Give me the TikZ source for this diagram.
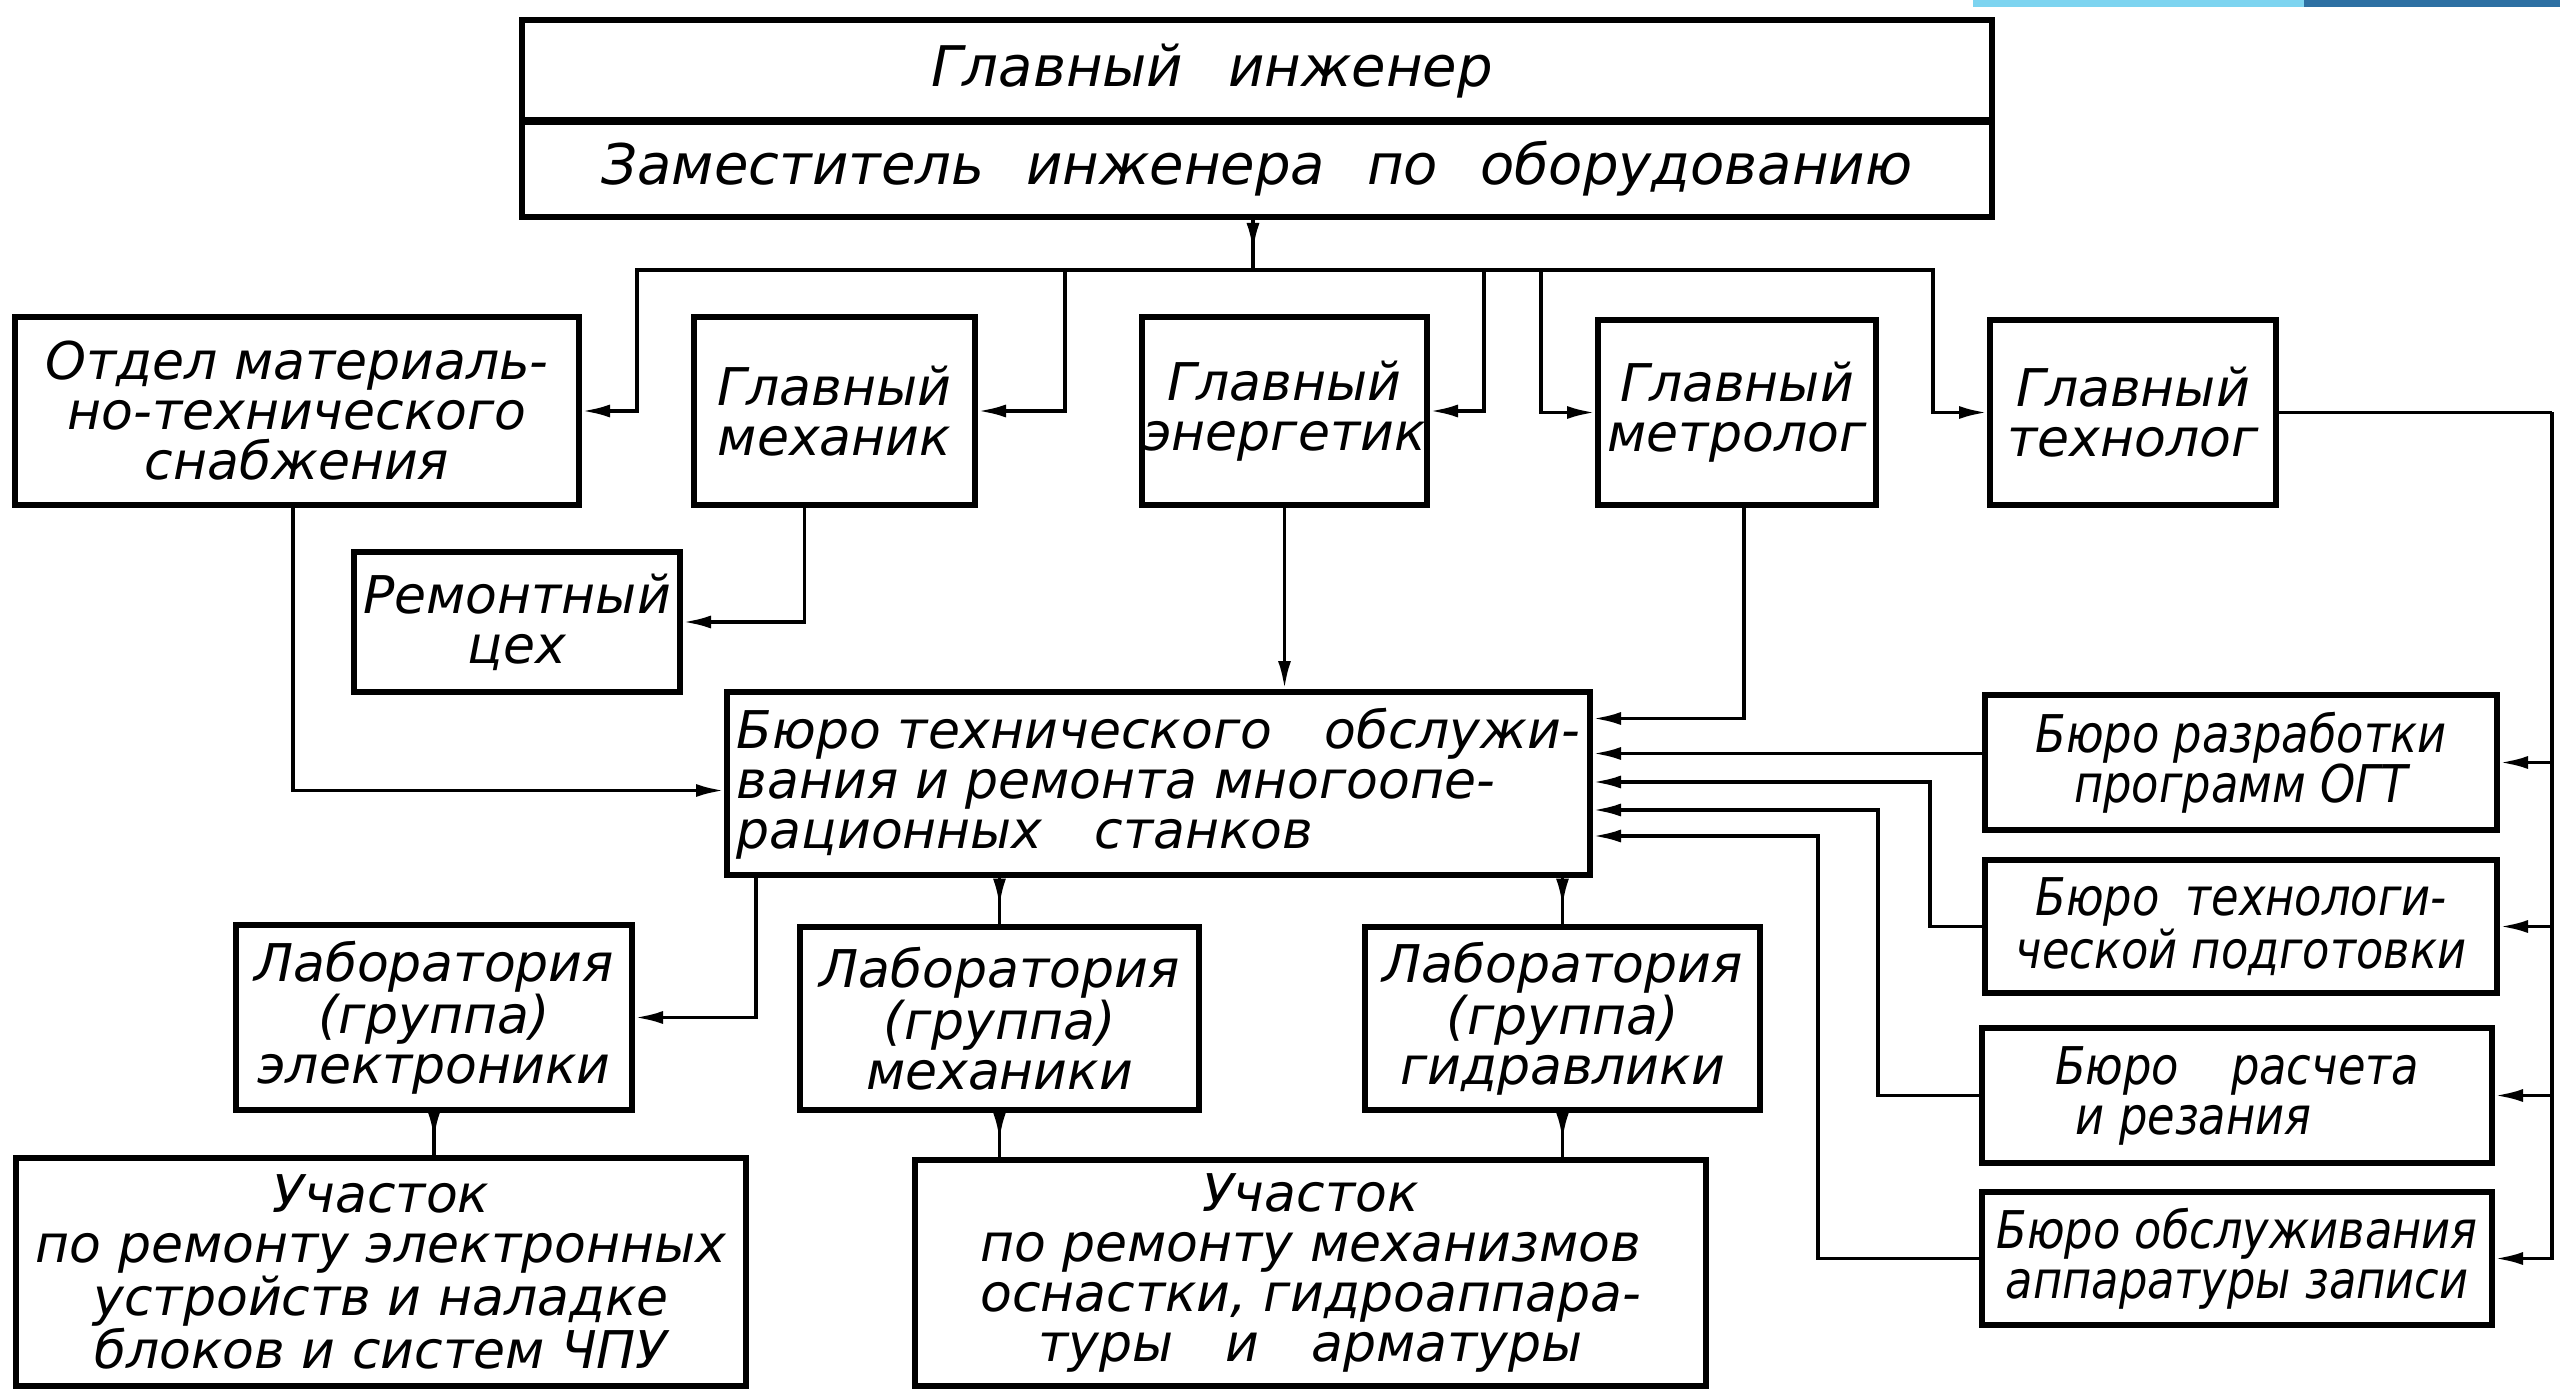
\documentclass[tikz,border=0pt]{standalone}
\usepackage{fontspec}
\newfontfamily\gost{DejaVu Sans Oblique}
\newfontfamily\gostn{DejaVu Sans Oblique}[FakeStretch=0.86]
\usetikzlibrary{arrows.meta,calc,decorations.markings}
\begin{document}
\begin{tikzpicture}[x=0.5pt,y=-0.5pt,
  box/.style={draw, line width=3pt, inner sep=0pt, align=center,
    font=\gost\fontsize{26}{25}\selectfont},
  narrowbox/.style={box, font=\gostn\fontsize{26}{25}\selectfont},
  sz/.style 2 args={minimum width=#1pt, minimum height=#2pt},
  conn/.style={line width=1.8pt},
  toarrow/.style={-{Latex[length=14pt,width=6.5pt]}},
  midarrow/.style={postaction={decorate},decoration={markings,
    mark=at position 0.62 with {\arrow{Latex[length=14pt,width=6.5pt]}}}}]
\useasboundingbox[fill=white] (0,0) rectangle (2560,1390);
% blue bar
\fill[fill={rgb,255:red,125;green,212;blue,240}] (1973,0) rectangle (2304,7);
\fill[fill={rgb,255:red,46;green,112;blue,163}] (2304,0) rectangle (2560,7);

% top
\node[box, sz={735}{51}, font={\gost\fontsize{28}{26}\selectfont\spaceskip=0.8em}] (chief) at (1257,71) {Главный инженер\hspace*{1.6em}};
\node[box, sz={735}{48.5}, font={\gost\fontsize{28}{26}\selectfont\spaceskip=0.75em}] (deputy) at (1257,168.5) {Заместитель инженера по оборудованию};

% row 2
\node[box, sz={282}{94}] (otdel) at (297,411) {Отдел материаль-\\но-технического\\снабжения};
\node[box, sz={140.5}{94}] (mech) at (834.5,411) {Главный\\механик};
\node[box, sz={142.5}{94}] (energ) at (1284.5,411) {Главный\\энергетик};
\node[box, sz={139}{92.5}] (metr) at (1737,412.5) {Главный\\метролог};
\node[box, sz={143}{92.5}] (tech) at (2133,412.5) {Главный\\технолог};

\node[box, sz={163}{70}] (remc) at (517,622) {Ремонтный\\цех};
\node[box, sz={431.5}{91.5}, align=left] (bto) at (1158.5,783.5) {Бюро технического\quad обслужи-\\вания и ремонта многоопе-\\рационных\quad станков};

% right bureaus
\node[narrowbox, sz={256}{67.5}] (bRaz) at (2241,762.5) {Бюро разработки\\программ ОГТ};
\node[narrowbox, sz={256}{66.5}] (bTekh) at (2241,926.5) {Бюро\enspace технологи-\\ческой подготовки};
\node[narrowbox, sz={255}{67.5}, align=left] (bRas) at (2237,1095.5) {Бюро\quad расчета\\\hspace*{0.4em}и резания};
\node[narrowbox, sz={255}{66.5}] (bObs) at (2237,1258.5) {Бюро обслуживания\\аппаратуры записи};

% labs
\node[box, sz={198}{92.5}] (labE) at (434,1017.5) {Лаборатория\\(группа)\\электроники};
\node[box, sz={199.5}{91.5}] (labM) at (999.5,1018.5) {Лаборатория\\(группа)\\механики};
\node[box, sz={197.5}{91.5}] (labH) at (1562.5,1018.5) {Лаборатория\\(группа)\\гидравлики};

% sections
\node[box, sz={365}{114}] (uchE) at (381,1272) {Участок\\по ремонту электронных\\устройств и наладке\\блоков и систем ЧПУ};
\node[box, sz={395.5}{113}] (uchM) at (1310.5,1273) {Участок\\по ремонту механизмов\\оснастки, гидроаппара-\\туры\quad и\quad арматуры};

% bus from the top
\coordinate (bus) at (1253,270);
\draw[conn,midarrow] (deputy.south -| bus) -- (bus);
\draw[conn,toarrow] (bus) -| (637,411) -- (otdel.east);
\draw[conn,toarrow] (bus) -| (1065,411) -- (mech.east);
\draw[conn,toarrow] (bus) -| (1484,411) -- (energ.east);
\draw[conn,toarrow] (bus) -| (1541,412.5) -- (metr.west);
\draw[conn,toarrow] (bus) -| (1933,412.5) -- (tech.west);

% technologist to right bureaus
\coordinate (rt) at (2552,412.5);
\draw[conn] (tech.east) -- (rt);
\draw[conn,toarrow] (rt) |- (bRaz.east);
\draw[conn,toarrow] (rt) |- (bTekh.east);
\draw[conn,toarrow] (rt) |- (bRas.east);
\draw[conn,toarrow] (rt) |- (bObs.east);

% into the bureau of maintenance
\draw[conn,toarrow] ([xshift=-2pt]otdel.south) |- ([yshift=-3.5pt]bto.west);
\draw[conn,toarrow] ([xshift=-15pt]mech.south) |- (remc.east);
\draw[conn,toarrow] (energ.south) -- (energ.south |- bto.north);
\draw[conn,toarrow] ([xshift=3.5pt]metr.south) |- ([yshift=32.5pt]bto.east);
\draw[conn,toarrow] ([yshift=4.5pt]bRaz.west) -- ([yshift=4.5pt]bRaz.west -| bto.east);
\draw[conn,toarrow] (bTekh.west) -| (1930,782) -- (bto.east |- 1930,782);
\draw[conn,toarrow] (bRas.west) -| (1878,810) -- (bto.east |- 1878,810);
\draw[conn,toarrow] (bObs.west) -| (1818,836) -- (bto.east |- 1818,836);

% out of the bureau
\draw[conn,toarrow] ([xshift=16pt]bto.south west) |- (labE.east);
\draw[conn,midarrow] (labM.north |- bto.south) -- (labM.north);
\draw[conn,midarrow] (labH.north |- bto.south) -- (labH.north);

% labs to sections
\draw[conn,midarrow] (labE.south) -- (labE.south |- uchE.north);
\draw[conn,midarrow] (labM.south) -- (labM.south |- uchM.north);
\draw[conn,midarrow] (labH.south) -- (labH.south |- uchM.north);
\end{tikzpicture}
\end{document}
